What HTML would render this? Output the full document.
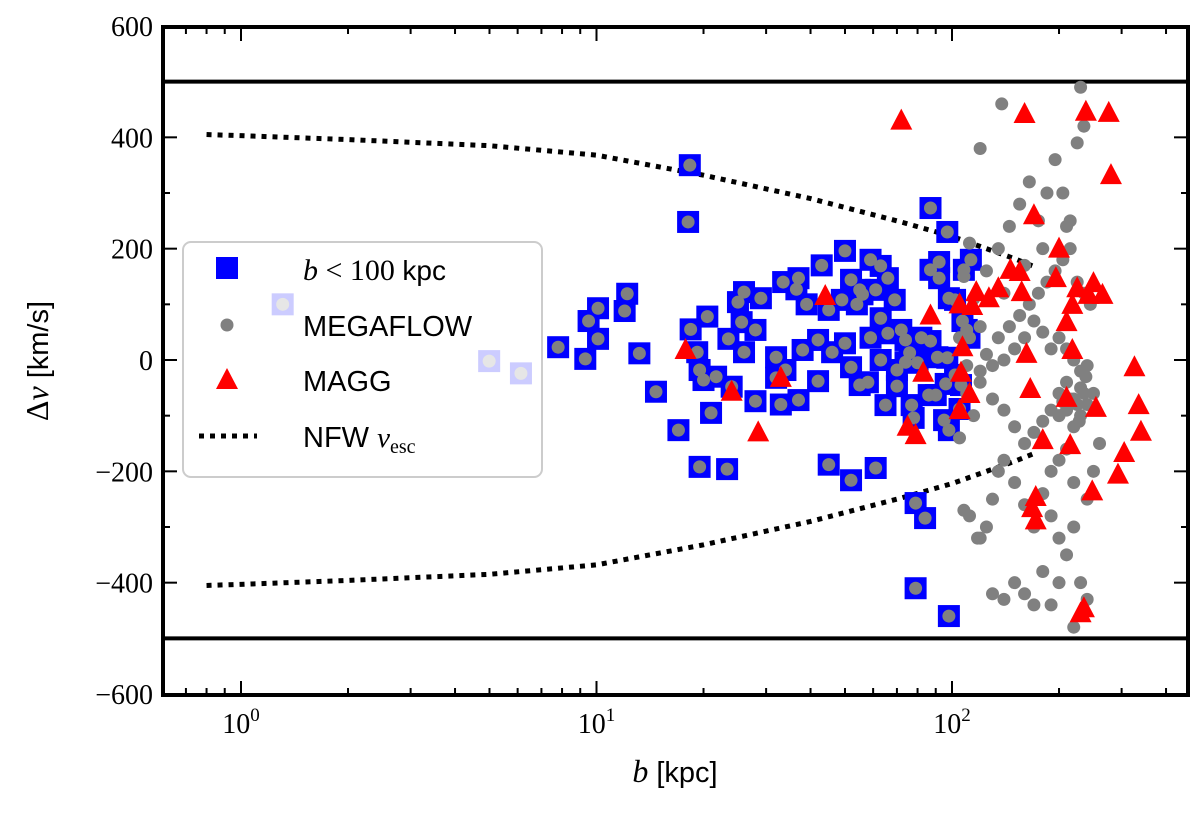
<!DOCTYPE html>
<html><head><meta charset="utf-8"><style>
html,body{margin:0;padding:0;background:#fff;}
svg{display:block;}
text{font-family:"Liberation Serif",serif;}
.sans{font-family:"Liberation Sans",sans-serif;}
.serif{font-family:"Liberation Serif",serif;}
</style></head><body>
<svg id="chart" width="1200" height="816" viewBox="0 0 1200 816" xmlns="http://www.w3.org/2000/svg"></svg>
<script>
// ---- data ----
const bluesB=[7.8,9.3,9.5,10.1,10.1,12,12.2,13.2,14.7,17,18.3,18.1,18.4,19.2,19.5,20,20.5,21,21.7,23.5,23.3,25,25.6,26,24,28,32,32,33.5,37,33,36.5,38,39,42,43,45,46,50,50,52,52,54,55,56,58,59,61,63,66,70,74,77,80,82,87,91,92,96,97,98,102,105,106,107,108,110,112,113,92,87,76,72,69,66,63,59,55,49,45,29,28,26,19.5,34,37,42,52,86,95,98,79,84,79,98,87,97,102,90,78,65,63,61,70,74];
const bluesV=[23,2,70,93,38,88,119,12,-57,-126,350,248,55,14,-192,-36,78,-95,-30,38,-196,104,68,122,-48,-74,5,-32,140,147,-80,127,18,100,-38,170,-188,14,30,196,-13,144,100,-45,118,-40,40,-194,75,48,-18,-4,-81,-5,40,34,5,147,-43,4,111,108,-88,-45,70,162,54,40,180,176,162,13,54,108,147,169,180,126,108,90,111,54,14,-18,-18,-72,36,-216,-63,-108,-126,-257,-284,-410,-460,273,230,-27,-63,-104,-81,0,126,-47,36];
const hiddenB=[1.31,4.99,6.13];
const hiddenV=[100,-2,-24];
const greyB=[110,115,120,105,108,112,118,125,130,135,140,150,160,170,180,190,200,210,220,230,240,250,200,210,220,230,190,180,170,160,150,140,130,120,125,135,145,155,165,175,185,195,205,215,225,235,245,200,210,220,230,240,190,180,170,160,150,140,130,120,115,125,135,145,155,165,175,185,195,205,215,225,235,120,138,230,210,190,200,210,220,230,240,180,160,150,140,130,120,200,190,220,170,110,105,108,112,140,160,180,240,250,220,260,200,210,225,235,215,205,228,238];
const greyV=[-60,-100,-40,-140,-270,-280,-320,-300,-250,-200,-180,-220,-260,-300,-240,-200,-180,-160,-120,-100,-80,-60,-60,-40,-70,-50,-90,-110,-130,-150,-120,-90,-70,-20,10,40,60,80,100,120,140,160,180,200,140,120,100,40,20,0,-20,-10,20,50,70,40,20,0,-10,60,110,160,200,240,280,320,250,300,360,300,250,390,420,380,460,490,240,-280,-320,-350,-300,-400,-430,-380,-420,-400,-430,-420,-320,-400,-440,-480,-440,-10,40,150,210,120,170,200,-250,-200,-220,-150,-100,-90,-80,-60,-70,-75,-110,-30];
const maggB=[17.8,24,33,28.5,44,72,75,79,83,87,105,105,106,107,112,114,117,127,135,146,155,157,162,166,170,160,168,172,172,180,196,200,210,210,215,218,225,230,235,238,242,250,254,248,265,276,280,293,305,326,335,340,218];
const maggV=[18,-57,-32,-130,115,430,-120,-135,-23,80,100,-90,-23,23,-61,97,122,111,129,162,158,122,11,-52,260,442,-266,-288,-246,-144,147,200,68,-68,-153,99,129,-455,-446,446,117,138,-86,-236,117,444,332,-206,-167,-13,-81,-129,18];
const nfwB=[0.8,1,2,5,10,20,40,70,100,150,170];
const nfwV=[405,403,396,385,368,332,290,250,222,182,168];
const xTickVals=[1,10,100];
const yTickVals=[-600,-400,-200,0,200,400,600];

// ---- axes ----
const L=163,R=1188,T=27,B=695;
const X=b=>241+355.5*Math.log10(b);
const Y=v=>360-v*(668/1200);
const svg=document.getElementById('chart');
const NS='http://www.w3.org/2000/svg';
function mk(tag,attrs,parent){const e=document.createElementNS(NS,tag);for(const k in attrs)e.setAttribute(k,attrs[k]);(parent||svg).appendChild(e);return e;}

[500,-500].forEach(v=>{
  const l=mk('line',{x1:L,x2:R,y1:Y(v),y2:Y(v),stroke:'#000','stroke-width':4});
  
  
});

[1,-1].forEach(s=>{
  const pts=nfwB.map((b,i)=>X(b)+','+Y(s*nfwV[i])).join(' ');
  const p=mk('polyline',{points:pts,fill:'none',stroke:'#000','stroke-width':5,'stroke-dasharray':'5,6'});
  
  
});

const allSqB=hiddenB.concat(bluesB), allSqV=hiddenV.concat(bluesV);
allSqB.forEach((b,i)=>{
  const r=mk('rect',{x:X(b)-11,y:Y(allSqV[i])-11,width:22,height:22,fill:'#0000ff'});
  
  
});
allSqB.forEach((b,i)=>{
  const c=mk('circle',{cx:X(b),cy:Y(allSqV[i]),r:6.5,fill:'#808080'});
  
  
});
greyB.forEach((b,i)=>{
  const c=mk('circle',{cx:X(b),cy:Y(greyV[i]),r:6.5,fill:'#808080'});
  
  
});
maggB.forEach((b,i)=>{
  const x=X(b),y=Y(maggV[i]);
  const t=mk('polygon',{points:`${x},${y-12} ${x-11},${y+9} ${x+11},${y+9}`,fill:'#ff0000'});
  
  
});

const fr=mk('rect',{x:L,y:T,width:R-L,height:B-T,fill:'none',stroke:'#000','stroke-width':4});



const tg=mk('g',{stroke:'#000','stroke-width':2});


for(let d=-1;d<=2;d++){for(let m=1;m<10;m++){const b=m*Math.pow(10,d);const x=X(b);if(x<L||x>R)continue;const len=m===1?14:7;
  mk('line',{x1:x,x2:x,y1:B,y2:B-len},tg);mk('line',{x1:x,x2:x,y1:T,y2:T+len},tg);}}
for(let v=-600;v<=600;v+=100){const y=Y(v);const len=v%200===0?14:7;
  mk('line',{x1:L,x2:L+len,y1:y,y2:y},tg);mk('line',{x1:R,x2:R-len,y1:y,y2:y},tg);}

xTickVals.forEach(b=>{
  const t=mk('text',{x:X(b),y:B+38,'font-size':28,'text-anchor':'middle'});
  
  
  t.innerHTML=`10<tspan dy="-12" font-size="19">${Math.log10(b)}</tspan>`;
});
yTickVals.forEach(v=>{
  const t=mk('text',{x:L-10,y:Y(v)+10,'font-size':28,'text-anchor':'end'});
  
  
  t.textContent=v<0?'\u2212'+(-v):String(v);
});

const xt=mk('text',{x:675,y:782,'font-size':32,'text-anchor':'middle'});


xt.innerHTML='<tspan font-style="italic">b</tspan> <tspan class="sans" font-size="29">[kpc]</tspan>';
const yt=mk('text',{x:0,y:0,'font-size':32,'text-anchor':'middle',transform:'translate(48,361) rotate(-90)'});


yt.innerHTML='Δ<tspan font-style="italic">v</tspan> <tspan class="sans" font-size="29">[km/s]</tspan>';

const lg=mk('g',{});


mk('rect',{x:183,y:242,width:359,height:235,rx:8,fill:'#fff','fill-opacity':0.8,stroke:'#ccc','stroke-width':2},lg);
const e1=mk('g',{},lg);
mk('rect',{x:216,y:257,width:22,height:22,fill:'#0000ff'},e1);
const t1=mk('text',{x:303,y:280,'font-size':30},e1);t1.innerHTML='<tspan font-style="italic">b</tspan> &lt; 100 <tspan class="sans" font-size="28">kpc</tspan>';
const e2=mk('g',{},lg);
mk('circle',{cx:227,cy:325,r:6.5,fill:'#808080'},e2);
const t2=mk('text',{x:303,y:336,'font-size':29,'class':'sans'},e2);t2.textContent='MEGAFLOW';
const e3=mk('g',{},lg);
mk('polygon',{points:'227,368 216,389 238,389',fill:'#ff0000'},e3);
const t3=mk('text',{x:303,y:391,'font-size':29,'class':'sans'},e3);t3.textContent='MAGG';
const e4=mk('g',{},lg);
mk('line',{x1:199,x2:257,y1:436,y2:436,stroke:'#000','stroke-width':5,'stroke-dasharray':'5,6'},e4);
const t4=mk('text',{x:303,y:447,'font-size':29,'class':'sans'},e4);t4.innerHTML='NFW <tspan class="serif" font-style="italic">v</tspan><tspan class="serif" font-size="20" dy="6">esc</tspan>';
</script>
</body></html>
